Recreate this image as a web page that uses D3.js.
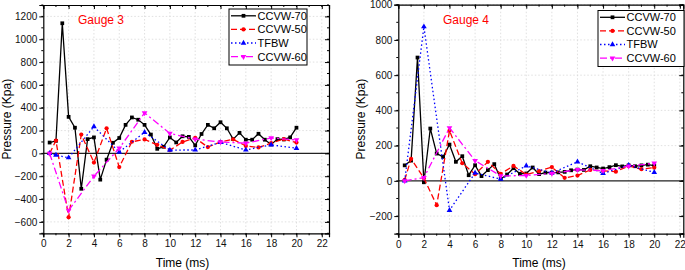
<!DOCTYPE html>
<html>
<head>
<meta charset="utf-8">
<script src="https://cdn.jsdelivr.net/npm/d3@7"></script>
<style>
  body { margin: 0; background: #fff; }
  svg { display: block; font-family: "Liberation Sans", Arial, sans-serif; }
</style>
</head>
<body>
<div id="chart"></div>
<script>
// Gauge 3 (left panel)
const g3TimeHalf = [0.5,1,1.5,2,2.5,3,3.5,4,4.5,5,5.5,6,6.5,7,7.5,8,8.5,9,9.5,10,10.5,11,11.5,12,12.5,13,13.5,14,14.5,15,15.5,16,16.5,17,17.5,18,18.5,19,19.5,20];
const g3CCVW70 = [95,110,1140,320,225,-310,125,140,-230,-55,93,135,250,315,295,250,165,40,58,140,96,150,145,70,170,250,220,273,220,125,180,120,120,172,120,78,125,122,140,225];
const g3TimeOne = [0.5,1,2,3,4,5,6,7,8,9,10,11,12,13,14,15,16,17,18,19,20];
const g3CCVW50 = [0,112,-560,165,-80,220,-120,102,122,75,28,100,135,55,100,123,65,52,90,125,95];
const g3TimeTF = [0.5,1,2,4,6,8,10,12,14,16,18,20];
const g3TFBW = [0,-15,-38,235,12,185,29,30,96,30,75,45];
const g3TimeTwo = [0.5,2,4,6,8,10,12,14,16,18,20];
const g3CCVW60 = [0,-500,-200,45,355,175,125,100,90,135,118];

// Gauge 4 (right panel)
const g4TimeHalf = g3TimeHalf;
const g4CCVW70 = [88,115,700,-8,297,155,136,206,108,140,32,89,27,61,95,10,36,72,40,42,76,38,47,47,48,51,60,64,62,83,76,70,78,89,82,88,83,88,92,87];
const g4TimeOne = g3TimeOne;
const g4CCVW50 = [5,125,15,-138,285,100,38,108,40,85,36,55,78,17,30,62,57,52,85,66,75];
const g4TimeTwo = g3TimeTwo;
const g4TFBW = [0,875,-167,45,10,85,45,108,42,88,48];
const g4CCVW60 = [0,18,301,115,28,30,42,63,58,83,100];

const seriesNames = ["CCVW-70", "CCVW-50", "TFBW", "CCVW-60"];
const xTicks = d3.range(0, 23, 2);
const g3YTicks = d3.range(-600, 1201, 200);
const g4YTicks = d3.range(-200, 1001, 200);

const styles = [
  { color: "#000000", dash: null, symbol: d3.symbolSquare, size: 14, rot: 0 },
  { color: "#ff0000", dash: "6,3", symbol: d3.symbolCircle, size: 14, rot: 0 },
  { color: "#0000ff", dash: "1.5,2.5", symbol: d3.symbolTriangle, size: 14, rot: 0 },
  { color: "#ff00ff", dash: "7,3,2,3", symbol: d3.symbolTriangle, size: 14, rot: 180 }
];

const W = 685, H = 270;
const svg = d3.select("#chart").append("svg")
  .attr("width", W).attr("height", H)
  .attr("viewBox", `0 0 ${W} ${H}`);

function panel(opt) {
  const x = d3.scaleLinear().domain(opt.xDomain).range([opt.left, opt.right]);
  const y = d3.scaleLinear().domain(opt.yDomain).range([opt.bottom, opt.top]);
  const g = svg.append("g");
  const clipId = "clip" + opt.id;

  g.append("clipPath").attr("id", clipId)
    .append("rect")
    .attr("x", opt.left).attr("y", opt.top)
    .attr("width", opt.right - opt.left).attr("height", opt.bottom - opt.top);

  // grid
  const xMinor = d3.range(opt.xDomain[0], opt.xDomain[1], 1);
  g.append("g").selectAll("line").data(xTicks.filter(d => d > 0))
    .join("line")
    .attr("x1", d => x(d)).attr("x2", d => x(d))
    .attr("y1", opt.top).attr("y2", opt.bottom)
    .attr("stroke", "#d8d8d8").attr("stroke-width", 0.8)
    .attr("stroke-dasharray", "1.5,2");
  g.append("g").selectAll("line").data(opt.yTicks.filter(d => d !== 0))
    .join("line")
    .attr("x1", opt.left).attr("x2", opt.right)
    .attr("y1", d => y(d)).attr("y2", d => y(d))
    .attr("stroke", "#d8d8d8").attr("stroke-width", 0.8)
    .attr("stroke-dasharray", "1.5,2");

  // zero line
  g.append("line")
    .attr("x1", opt.left).attr("x2", opt.right)
    .attr("y1", y(0)).attr("y2", y(0))
    .attr("stroke", "#222").attr("stroke-width", 1.2);

  // axes (Origin style: out on left/bottom, in on top/right)
  const yMinor = d3.range(opt.yDomain[0], opt.yDomain[1] + 1, 100);
  const axL = g.append("g").attr("transform", `translate(${opt.left},0)`)
    .call(d3.axisLeft(y).tickValues(opt.yTicks).tickSize(4).tickPadding(2).tickFormat(d3.format("d")));
  axL.append("g").selectAll("line").data(yMinor).join("line")
    .attr("x1", -2).attr("x2", 0).attr("y1", d => y(d)).attr("y2", d => y(d))
    .attr("stroke", "#000");
  const axB = g.append("g").attr("transform", `translate(0,${opt.bottom})`)
    .call(d3.axisBottom(x).tickValues(xTicks).tickSize(4).tickPadding(3).tickFormat(d3.format("d")));
  axB.append("g").selectAll("line").data(xMinor).join("line")
    .attr("x1", d => x(d)).attr("x2", d => x(d)).attr("y1", 0).attr("y2", 2)
    .attr("stroke", "#000");
  const axT = g.append("g").attr("transform", `translate(0,${opt.top})`)
    .call(d3.axisTop(x).tickValues(xTicks).tickSize(-4).tickFormat(""));
  axT.append("g").selectAll("line").data(xMinor).join("line")
    .attr("x1", d => x(d)).attr("x2", d => x(d)).attr("y1", 0).attr("y2", 2)
    .attr("stroke", "#000");
  const axR = g.append("g").attr("transform", `translate(${opt.right},0)`)
    .call(d3.axisRight(y).tickValues(opt.yTicks).tickSize(-4).tickFormat(""));
  axR.append("g").selectAll("line").data(yMinor).join("line")
    .attr("x1", -2).attr("x2", 0).attr("y1", d => y(d)).attr("y2", d => y(d))
    .attr("stroke", "#000");
  g.selectAll(".domain").attr("stroke", "#000").attr("stroke-width", 1.2);
  g.selectAll(".tick text").attr("font-size", "10px").attr("fill", "#111")
    .attr("font-family", "'Liberation Sans', Arial, sans-serif");

  // data
  opt.series.forEach((s, i) => {
    const st = styles[i];
    const pts = s.t.map((t, k) => [t, s.v[k]]);
    const line = d3.line().x(d => x(d[0])).y(d => y(d[1]));
    g.append("path").datum(pts)
      .attr("clip-path", `url(#${clipId})`)
      .attr("d", line)
      .attr("fill", "none")
      .attr("stroke", st.color)
      .attr("stroke-width", 1.3)
      .attr("stroke-dasharray", st.dash);
    g.append("g").selectAll("path").data(pts).join("path")
      .attr("d", d3.symbol().type(st.symbol).size(st.size))
      .attr("transform", d => `translate(${x(d[0])},${y(d[1])}) rotate(${st.rot})`)
      .attr("fill", st.color);
  });

  // gauge label
  g.append("text")
    .attr("x", opt.gaugeX).attr("y", opt.top + 19)
    .attr("font-size", "12px").attr("fill", "#ff0000")
    .text(opt.gauge);

  // legend
  const lg = g.append("g").attr("transform", `translate(${opt.legX},${opt.legY})`);
  lg.append("rect")
    .attr("x", 0).attr("y", 0).attr("width", opt.legW).attr("height", 56)
    .attr("fill", "#fff").attr("stroke", "#000").attr("stroke-width", 1);
  seriesNames.forEach((name, i) => {
    const st = styles[i];
    const cy = 6.8 + i * 13.6;
    lg.append("line")
      .attr("x1", 2).attr("x2", 27).attr("y1", cy).attr("y2", cy)
      .attr("stroke", st.color).attr("stroke-width", 1.3)
      .attr("stroke-dasharray", st.dash);
    lg.append("path")
      .attr("d", d3.symbol().type(st.symbol).size(st.size)())
      .attr("transform", `translate(14.5,${cy}) rotate(${st.rot})`)
      .attr("fill", st.color);
    lg.append("text")
      .attr("x", 28.5).attr("y", cy).attr("dy", "0.36em")
      .attr("font-size", "11px").attr("fill", "#000")
      .text(name);
  });

  // axis titles
  g.append("text")
    .attr("x", (x(0) + x(22)) / 2).attr("y", 267)
    .attr("text-anchor", "middle").attr("font-size", "12px")
    .text("Time (ms)");
  g.append("text")
    .attr("transform", `translate(${opt.yLabelX},${(opt.top + opt.bottom) / 2}) rotate(-90)`)
    .attr("text-anchor", "middle").attr("font-size", "12px")
    .text("Pressure (Kpa)");
}

panel({
  id: 3, left: 43.3, right: 329, top: 5, bottom: 233.3,
  xDomain: [0, 22.57], yDomain: [-700, 1300], yTicks: g3YTicks,
  gauge: "Gauge 3", gaugeX: 78,
  legX: 229, legY: 9, legW: 78, yLabelX: 11,
  series: [
    { t: g3TimeHalf, v: g3CCVW70 },
    { t: g3TimeOne, v: g3CCVW50 },
    { t: g3TimeTF, v: g3TFBW },
    { t: g3TimeTwo, v: g3CCVW60 }
  ]
});

panel({
  id: 4, left: 398.3, right: 683.3, top: 4.7, bottom: 233.7,
  xDomain: [0, 22.27], yDomain: [-300, 1000], yTicks: g4YTicks,
  gauge: "Gauge 4", gaugeX: 443,
  legX: 598, legY: 10.5, legW: 86, yLabelX: 365,
  series: [
    { t: g4TimeHalf, v: g4CCVW70 },
    { t: g4TimeOne, v: g4CCVW50 },
    { t: g4TimeTwo, v: g4TFBW },
    { t: g4TimeTwo, v: g4CCVW60 }
  ]
});
</script>
</body>
</html>
